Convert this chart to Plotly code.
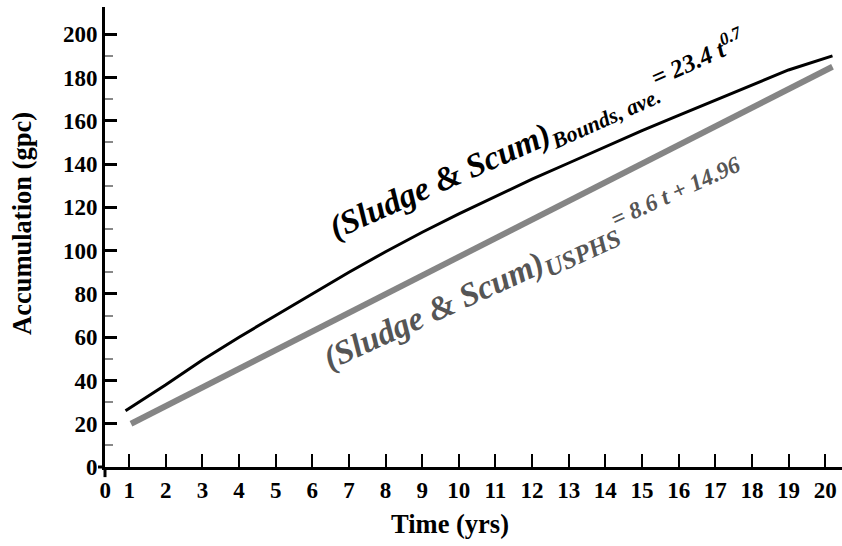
import plotly.graph_objects as go

# ---- data ----
t_bounds = [0.9, 2, 3, 4, 5, 6, 7, 8, 9, 10, 11, 12, 13, 14, 15, 16, 17, 18, 19, 20.2]
acc_bounds = [26, 38, 49.5, 60, 70, 80, 90, 99.5, 108.5, 117, 125, 133, 140.5, 148,
              155.5, 162.5, 169.5, 176.5, 183.5, 190]

t_usphs = [1.05, 5, 10, 15, 20.2]
acc_usphs = [20, 54, 97, 140, 185]

x_tickvals = [0.345] + list(range(1, 21))
x_ticktext = ["0"] + [str(i) for i in range(1, 21)]
y_tickvals = [0, 20, 40, 60, 80, 100, 120, 140, 160, 180, 200]
y_ticktext = [str(v) for v in y_tickvals]
y_minorvals = [10, 30, 50, 70, 90, 110, 130, 150, 170, 190]

FONT = "Liberation Serif"

fig = go.Figure()
fig.add_trace(go.Scatter(x=t_usphs, y=acc_usphs, mode="lines",
                         line=dict(color="#858585", width=6), showlegend=False))
fig.add_trace(go.Scatter(x=t_bounds, y=acc_bounds, mode="lines",
                         line=dict(color="black", width=3), showlegend=False))

fig.update_layout(
    width=842, height=546,
    margin=dict(l=105, r=0, t=7, b=79),
    paper_bgcolor="white", plot_bgcolor="white",
    font=dict(family=FONT, color="black"),
    xaxis=dict(range=[0.34, 20.46], showgrid=False, zeroline=False,
               showline=True, linecolor="black", linewidth=3,
               ticks="inside", ticklen=13, tickwidth=2, tickcolor="black",
               tickmode="array", tickvals=x_tickvals,
               ticktext=["<b>%s</b>" % s for s in x_ticktext],
               tickfont=dict(family=FONT, size=23, color="black")),
    yaxis=dict(range=[0, 212.6], showgrid=False, zeroline=False,
               showline=True, linecolor="black", linewidth=3,
               ticks="inside", ticklen=12, tickwidth=2.5, tickcolor="black",
               tickmode="array", tickvals=y_tickvals,
               ticktext=["<b>%s</b>" % s for s in y_ticktext],
               tickfont=dict(family=FONT, size=23, color="black"),
               minor=dict(tickmode="array", tickvals=y_minorvals, ticks="inside",
                          ticklen=8, tickwidth=2, tickcolor="#888888")),
)

# small overhangs of the crossing axes
fig.add_shape(type="line", xref="x domain", yref="y domain",
              x0=-0.0095, x1=0, y0=0, y1=0, line=dict(color="black", width=3))
fig.add_shape(type="line", xref="x domain", yref="y domain",
              x0=0, x1=0, y0=-0.022, y1=0, line=dict(color="black", width=3))

# axis titles
fig.add_annotation(text="<b>Time (yrs)</b>", xref="paper", yref="paper",
                   x=(450 - 105) / 737, y=-(524 - 467) / 460,
                   xanchor="center", yanchor="middle", showarrow=False,
                   font=dict(family=FONT, size=26.5, color="black"))
fig.add_annotation(text="<b>Accumulation (gpc)</b>", xref="paper", yref="paper",
                   x=-(105 - 22) / 737, y=(467 - 224) / 460, textangle=-90,
                   xanchor="center", yanchor="middle", showarrow=False,
                   font=dict(family=FONT, size=26.5, color="black"))

# curve labels
fig.add_annotation(
    text="<b><i>(Sludge &amp; Scum)<sub><span style='font-size:22px'>Bounds, ave.</span></sub>"
         "<span style='font-size:25px;baseline-shift:9px'>= 23.4 t<sup>0.7</sup></span></i></b>",
    x=12.2, y=153, xref="x", yref="y", textangle=-24, showarrow=False,
    xanchor="center", yanchor="middle",
    font=dict(family=FONT, size=33.5, color="black"))
fig.add_annotation(
    text="<b><i>(Sludge &amp; Scum)<sub><span style='font-size:25px'>USPHS</span></sub>"
         "<span style='font-size:23.5px;baseline-shift:11px'>= 8.6 t + 14.96</span></i></b>",
    x=12.05, y=93, xref="x", yref="y", textangle=-24.5, showarrow=False,
    xanchor="center", yanchor="middle",
    font=dict(family=FONT, size=33.5, color="#555555"))

fig.write_html("out.html",
               config={"displayModeBar": False},
               post_script="document.body.style.margin='0';"
                           "document.body.style.overflow='hidden';")
